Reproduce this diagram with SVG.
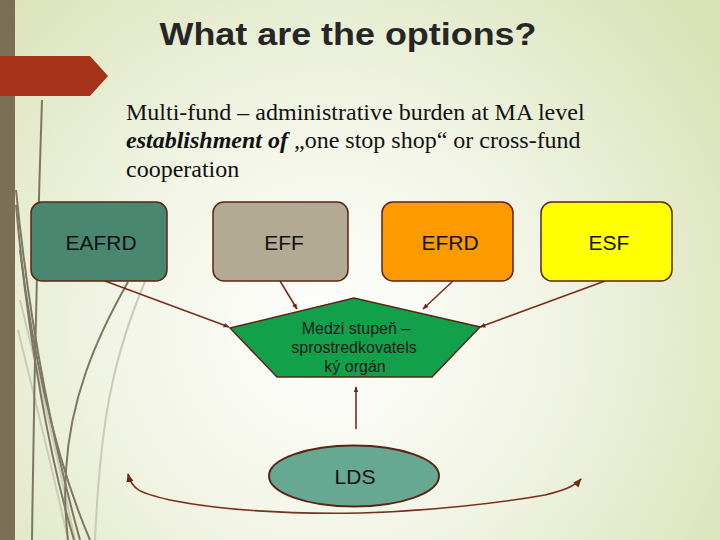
<svg xmlns="http://www.w3.org/2000/svg" width="720" height="540" viewBox="0 0 720 540">
<defs>
<radialGradient id="bg" cx="330" cy="330" r="470" gradientUnits="userSpaceOnUse">
<stop offset="0" stop-color="#ffffff"/>
<stop offset="0.45" stop-color="#f2f5e6"/>
<stop offset="1" stop-color="#d9e3b8"/>
</radialGradient>
<marker id="ah" viewBox="0 0 10 10" refX="9" refY="5" markerWidth="6" markerHeight="6" orient="auto-start-reverse" markerUnits="userSpaceOnUse">
<path d="M0,1 L10,5 L0,9 z" fill="#6b2a1a"/>
</marker>
<marker id="ahs" viewBox="0 0 10 10" refX="9" refY="5" markerWidth="9" markerHeight="9" orient="auto-start-reverse" markerUnits="userSpaceOnUse">
<path d="M0,1 L10,5 L0,9 z" fill="#6b2a1a"/>
</marker>
</defs>
<style>
.box{stroke:#5c2415;stroke-width:1.5}
.lbl{font-family:"Liberation Sans","DejaVu Sans",sans-serif;font-size:21px;fill:#111;text-anchor:middle}
.small{font-family:"Liberation Sans","DejaVu Sans",sans-serif;font-size:16px;fill:#1a1a1a;text-anchor:middle}
.body{font-family:"Liberation Serif","Times New Roman",serif;font-size:24px;fill:#111}
.con{fill:none;stroke:#7a2e1c;stroke-width:1.6}
.deco{fill:none;stroke:#7d7760;stroke-width:2}
.decol{fill:none;stroke:#c9ccb2;stroke-width:2}
</style>
<rect x="0" y="0" width="720" height="540" fill="url(#bg)"/>
<g id="decoration">
<path class="decol" d="M150,270 C110,360 100,430 95,540"/>
<path class="decol" d="M18,330 C40,420 55,480 68,540"/>
<path class="decol" d="M20,300 C45,400 60,470 75,540"/>
<path class="deco" d="M42,100 C38,220 34,380 32,540" stroke-width="1.2"/>
<path class="deco" d="M16,190 C30,330 55,450 80,540"/>
<path class="deco" d="M16,205 C28,340 50,460 74,540"/>
<path class="deco" d="M20,250 C35,370 60,470 90,540"/>
<path class="deco" d="M128,282 C95,340 70,400 66,470 C64,500 66,520 68,540" stroke-width="1.5"/>
</g>
<rect x="0" y="0" width="15" height="540" fill="#7a7055"/>
<path d="M0,56 L90,56 L108,76 L90,96 L0,96 z" fill="#a7321a"/>
<text x="348" y="45" font-family="'Liberation Sans','DejaVu Sans',sans-serif" font-weight="bold" font-size="31" fill="#262626" text-anchor="middle" textLength="377" lengthAdjust="spacingAndGlyphs">What are the options?</text>
<text class="body" x="126" y="120">Multi-fund – administrative burden at MA level</text>
<text class="body" x="126" y="148"><tspan font-weight="bold" font-style="italic">establishment of</tspan>  „one stop shop“ or cross-fund</text>
<text class="body" x="126" y="177">cooperation</text>
<g id="connectors">
<line class="con" x1="105" y1="281" x2="229" y2="327" marker-end="url(#ah)"/>
<line class="con" x1="280" y1="281" x2="297" y2="309" marker-end="url(#ah)"/>
<line class="con" x1="453" y1="281" x2="423" y2="309" marker-end="url(#ah)"/>
<line class="con" x1="605" y1="281" x2="480" y2="327" marker-end="url(#ah)"/>
<line class="con" x1="356" y1="429" x2="356" y2="387" stroke-width="3" marker-end="url(#ah)"/>
<path class="con" d="M128,474 C132,490 140,493 170,500 C230,512 300,514 360,513 C430,511 500,503 545,495 C565,490 575,486 581,479" stroke-width="1.2" marker-start="url(#ahs)" marker-end="url(#ahs)"/>
</g>
<g id="eafrd">
<rect class="box" x="31" y="202" width="136" height="79" rx="11" fill="#4a8771"/>
<text class="lbl" x="101" y="250">EAFRD</text>
</g>
<g id="eff">
<rect class="box" x="213" y="202" width="135" height="79" rx="11" fill="#b2aa92"/>
<text class="lbl" x="284" y="250">EFF</text>
</g>
<g id="efrd">
<rect class="box" x="382" y="202" width="131" height="79" rx="11" fill="#fd9a00"/>
<text class="lbl" x="450" y="250">EFRD</text>
</g>
<g id="esf">
<rect class="box" x="541" y="202" width="131" height="79" rx="11" fill="#ffff00"/>
<text class="lbl" x="609" y="250">ESF</text>
</g>
<g id="medzi">
<polygon class="box" points="230,328 354,298 480,327 432,377 277,377" fill="#12a04a"/>
<text class="small" x="356" y="334">Medzi stupeň –</text>
<text class="small" x="354" y="353">sprostredkovatels</text>
<text class="small" x="355" y="372">ký orgán</text>
</g>
<g id="lds">
<ellipse cx="354" cy="476" rx="85" ry="30.5" fill="#67a892" stroke="#5c2415" stroke-width="2"/>
<text class="lbl" x="355" y="484">LDS</text>
</g>
</svg>
